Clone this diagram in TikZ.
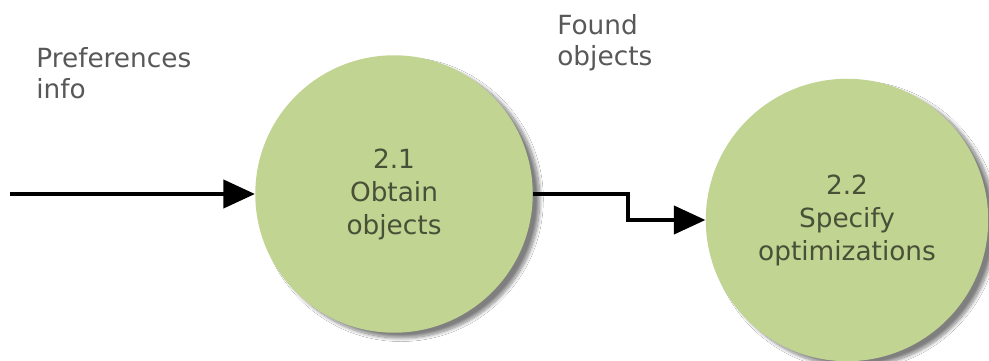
\documentclass[tikz,border=0pt]{standalone}
\usepackage{fontspec}
\setmainfont{DejaVu Sans}
\usepackage{tikz}
\usetikzlibrary{arrows.meta, positioning, shadows.blur}
\usepackage{xcolor}
\definecolor{procgreen}{RGB}{193,212,145}
\definecolor{proctext}{RGB}{72,80,56}
\definecolor{flowtext}{RGB}{88,88,88}

\begin{document}
\begin{tikzpicture}[x=0.02cm, y=-0.02cm,process/.style={circle, fill=procgreen, minimum size=#1, inner sep=0pt, align=center, text=proctext, font=\fontsize{15}{18.8}\selectfont, blur shadow={shadow xshift=4pt, shadow yshift=-3pt, shadow blur radius=2pt, shadow blur steps=12, shadow opacity=50}},flow/.style={-{Triangle[length=18pt, width=16pt]}, line width=2.3pt},label/.style={font=\fontsize{15}{17.5}\selectfont, text=flowtext, align=left, anchor=north west, inner sep=0pt}]
\fill[white] (0,0) rectangle (989,361);
\useasboundingbox (0,0) rectangle (989,361);
\node[process=5.55cm] (obtain) at (394,194) {2.1\\Obtain\\objects};
\node[process=5.65cm] (specify) at (847,220) {2.2\\Specify\\optimizations};
\coordinate (in) at (10,194);
\coordinate (bend) at (628,194);
\draw[flow] (in) -- (obtain);
\draw[flow] (obtain.east) -| (bend |- specify.west) -- (specify.west);
\node[label] (prefs) at (36,47) {Preferences\\info};
\node[label] (found) at (557,14) {Found\\objects};
\end{tikzpicture}
\end{document}
